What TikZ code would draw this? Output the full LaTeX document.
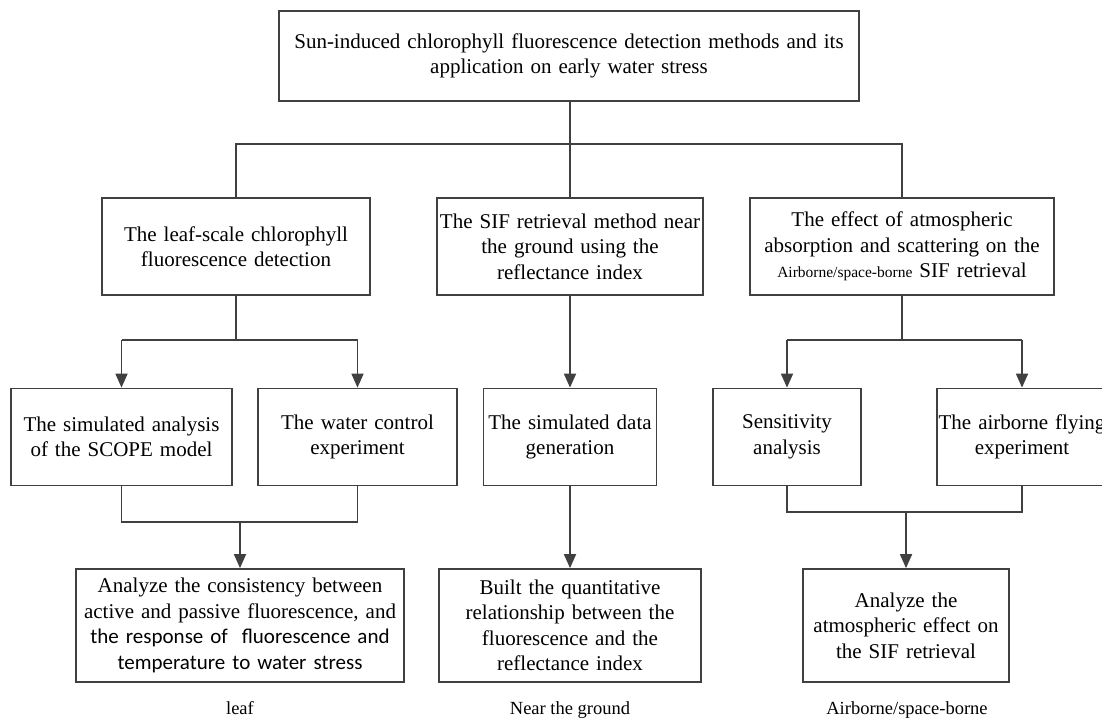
\documentclass[tikz,border=0pt]{standalone}
\usepackage{fontspec}
\setmainfont{Liberation Serif}
\newfontfamily\calfont{Carlito}
\usetikzlibrary{arrows.meta}
\definecolor{linegray}{HTML}{404040}

\begin{document}
\begin{tikzpicture}[x=1pt,y=1pt,
  box/.style={draw=linegray, line width=1.8pt, align=center, inner sep=0pt,
    minimum height=97pt, font=\fontsize{21}{25.5}\selectfont},
  link/.style={draw=linegray, line width=1.8pt},
  arr/.style={link, -{Triangle[width=12pt,length=14pt]}},
  tag/.style={anchor=base, inner sep=0pt, font=\fontsize{18.5}{22}\selectfont}]
\useasboundingbox (0,0) rectangle (1102,-720);
\clip (0,0) rectangle (1102,-720);
% top level
\node[box, minimum width=580pt, text width=570pt, minimum height=90pt] (top) at (569,-56)
  {Sun-induced chlorophyll fluorescence detection methods and its\\application on early water stress};
% second level
\node[box, minimum width=268pt, text width=260pt] (leafbox) at (236,-246.5)
  {The leaf-scale chlorophyll\\fluorescence detection};
\node[box, minimum width=266pt, text width=262pt] (groundbox) at (570,-246.5)
  {The SIF retrieval method near\\the ground using the\\reflectance index};
\node[box, minimum width=304pt, text width=296pt] (airbox) at (902,-246.5)
  {The effect of atmospheric\\absorption and scattering on the\\{\fontsize{15.5}{25.5}\selectfont Airborne/space-borne} SIF retrieval};
% third level
\node[box, minimum width=221pt, text width=215pt] (scope) at (121.5,-437)
  {The simulated analysis\\of the SCOPE model};
\node[box, minimum width=199pt, text width=193pt] (water) at (357.5,-437)
  {The water control\\experiment};
\node[box, minimum width=173pt, text width=167pt] (simdata) at (570,-437)
  {The simulated data\\generation};
\node[box, minimum width=148pt, text width=142pt] (sens) at (787,-437)
  {Sensitivity\\analysis};
\node[box, minimum width=170pt, text width=170pt] (flying) at (1022,-437)
  {The airborne flying\\experiment};
% bottom level
\node[box, minimum width=328pt, text width=322pt, minimum height=113pt] (res1) at (240,-625.5)
  {Analyze the consistency between\\active and passive fluorescence, and\\{\calfont the response of\ \ fluorescence and}\\{\calfont temperature to water stress}};
\node[box, minimum width=262pt, text width=256pt, minimum height=113pt] (res2) at (570,-625.5)
  {Built the quantitative\\relationship between the\\fluorescence and the\\reflectance index};
\node[box, minimum width=206pt, text width=200pt, minimum height=113pt] (res3) at (906,-625.5)
  {Analyze the\\atmospheric effect on\\the SIF retrieval};
% scale labels
\node[tag] (leaftag) at (240,-714) {leaf};
\node[tag] (groundtag) at (570,-714) {Near the ground};
\node[tag] (airtag) at (907,-714) {Airborne/space-borne};
% connectors
\coordinate (split0) at (570,-144);
\draw[link] (top.south -| split0) -- (groundbox.north);
\draw[link] (leafbox.north) -- (leafbox.north |- split0) -- (airbox.north |- split0) -- (airbox.north);
\coordinate (split1) at (236,-340);
\draw[link] (leafbox.south) -- (split1);
\draw[link] (scope.north |- split1) -- (water.north |- split1);
\draw[arr] (scope.north |- split1) -- (scope.north);
\draw[arr] (water.north |- split1) -- (water.north);
\draw[arr] (groundbox.south) -- (simdata.north);
\coordinate (split2) at (902,-340);
\draw[link] (airbox.south) -- (split2);
\draw[link] (sens.north |- split2) -- (flying.north |- split2);
\draw[arr] (sens.north |- split2) -- (sens.north);
\draw[arr] (flying.north |- split2) -- (flying.north);
\coordinate (join1) at (240,-522);
\draw[link] (scope.south) -- (scope.south |- join1) -- (water.south |- join1) -- (water.south);
\draw[arr] (join1) -- (join1 |- res1.north);
\draw[arr] (simdata.south) -- (simdata.south |- res2.north);
\coordinate (join2) at (906,-512);
\draw[link] (sens.south) -- (sens.south |- join2) -- (flying.south |- join2) -- (flying.south);
\draw[arr] (join2) -- (join2 |- res3.north);
\end{tikzpicture}
\end{document}
